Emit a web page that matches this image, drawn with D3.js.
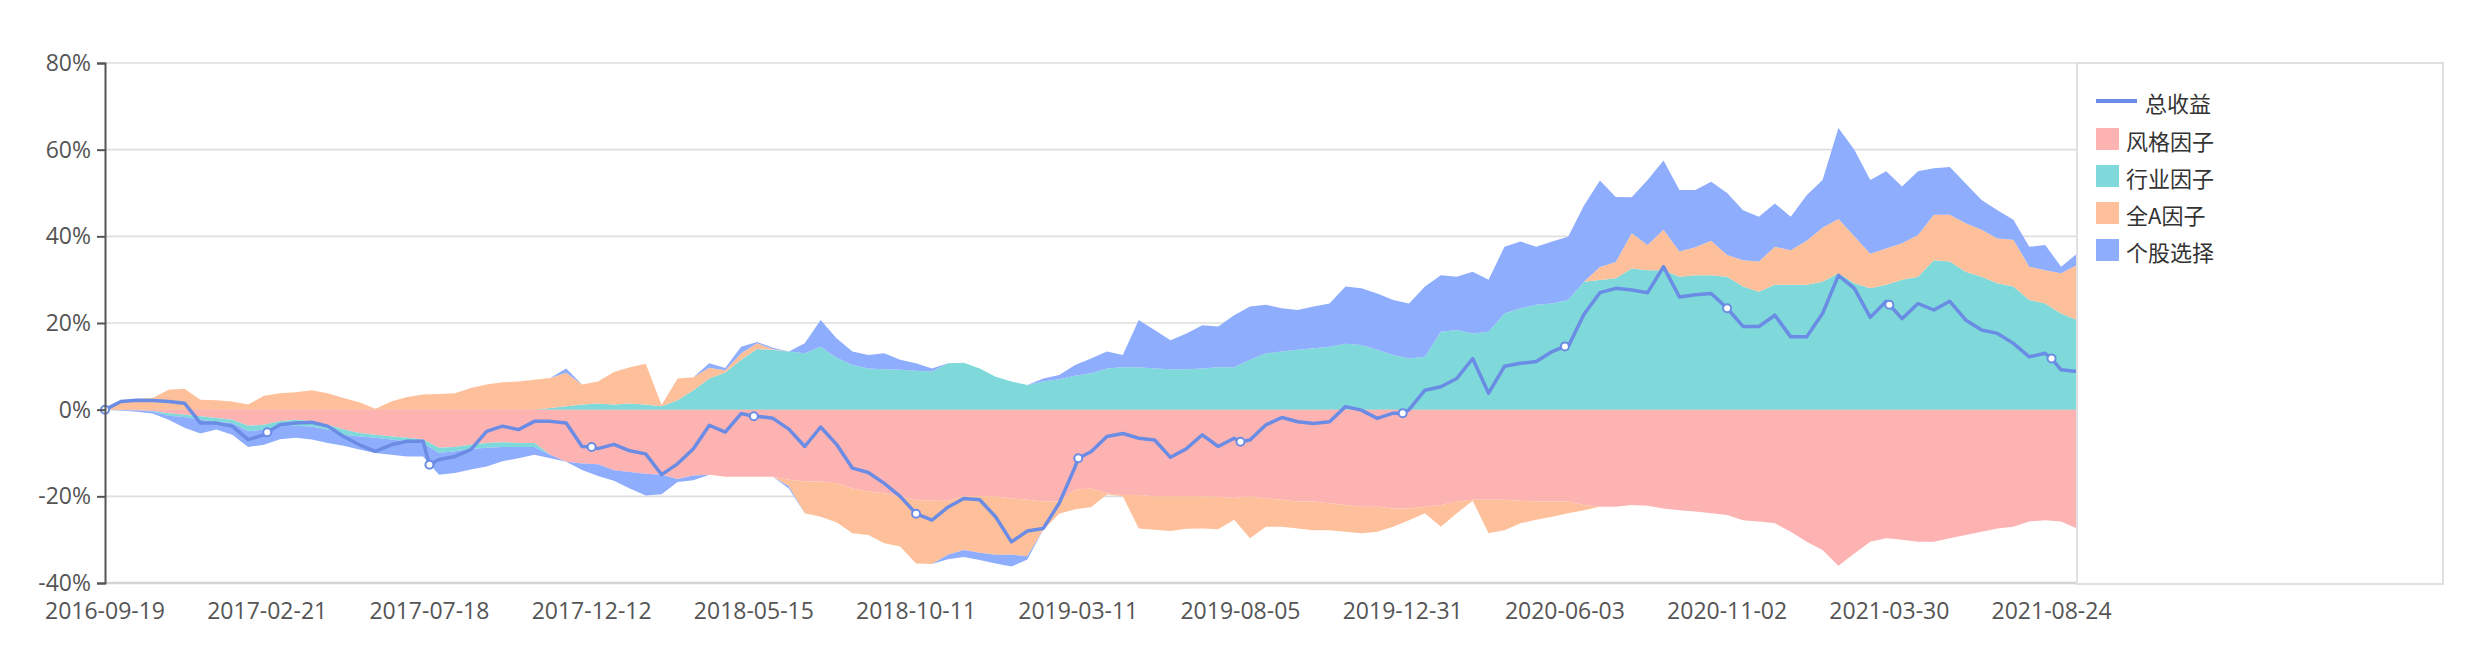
<!DOCTYPE html>
<html>
<head>
<meta charset="utf-8">
<script src="https://cdn.jsdelivr.net/npm/d3@7"></script>
<style>
  body { margin: 0; background: #fff; }
  text { font-family: "Microsoft YaHei", "Noto Sans CJK SC", "Noto Sans", sans-serif; }
  .axis-label { font-family: "Open Sans", "Noto Sans", sans-serif; font-size: 23px; }
</style>
</head>
<body>
<script>
// x categories: trading-day index, tick labels every 102 days
const tickDates = ["2016-09-19","2017-02-21","2017-07-18","2017-12-12","2018-05-15","2018-10-11",
  "2019-03-11","2019-08-05","2019-12-31","2020-06-03","2020-11-02","2021-03-30","2021-08-24"];
const tickDays = [0,102,204,306,408,510,612,714,816,918,1020,1122,1224];
const lastDay = 1240;
const sampleStep = 10;
const yTicks = [-40,-20,0,20,40,60,80];

// 总收益 (line), sampled every 10 trading days
const total = [
  0,1.9,2.2,2.1,1.9,1.5,-3.1,-3.1,-3.8,-6.9,
  -5.8,-3.5,-3.1,-2.9,-3.8,-6.2,-8.1,-9.6,-8.1,-7.3,
  -7.3,-11.5,-10.8,-9.2,-5.0,-3.8,-4.6,-2.7,-2.7,-3.1,
  -8.5,-9.0,-8.0,-9.5,-10.2,-15.0,-12.5,-9.0,-3.6,-5.2,
  -0.9,-1.5,-2.0,-4.5,-8.5,-4.0,-8.0,-13.5,-14.5,-17.0,
  -20.0,-24.3,-25.5,-22.5,-20.5,-20.8,-24.7,-30.5,-28.0,-27.4,
  -21.6,-13.2,-9.7,-6.2,-5.5,-6.6,-7.0,-11.0,-9.0,-5.8,
  -8.5,-6.6,-7.0,-3.5,-1.8,-2.8,-3.2,-2.8,0.7,-0.1,
  -2.0,-0.8,0.0,4.5,5.3,7.2,11.8,3.8,10.0,10.7,
  11.1,13.4,14.5,22.0,27.0,28.0,27.6,27.0,33.0,26.0,
  26.5,26.8,23.4,19.2,19.2,21.8,16.8,16.8,22.2,31.0,
  28.0,21.3,25.0,21.0,24.5,23.0,25.0,20.7,18.4,17.6,
  15.3,12.2,13.0,9.2,8.8
];
// 总收益 at the labelled days (drawn with symbols)
const totalAtTicks = [0,-5.2,-12.7,-8.6,-1.5,-24.0,-11.2,-7.4,-0.8,14.6,23.4,24.2,11.8];

// 风格因子
const style = [
  0,-0.1,-0.2,-0.3,-0.8,-1.2,-1.5,-1.9,-2.3,-3.7,
  -3.5,-2.7,-2.3,-2.7,-3.5,-4.6,-5.4,-5.8,-6.2,-6.5,
  -6.9,-8.8,-8.6,-8.1,-7.7,-7.5,-7.7,-7.7,-10.4,-12.0,
  -12.4,-12.6,-14.0,-14.4,-14.8,-15.0,-16.0,-15.2,-15.0,-15.5,
  -15.5,-15.5,-15.5,-16.2,-16.6,-16.6,-17.0,-18.2,-18.9,-19.3,
  -20.0,-20.8,-21.0,-21.0,-20.0,-20.0,-20.0,-20.5,-20.8,-21.2,
  -21.2,-18.5,-18.2,-19.3,-19.7,-19.7,-20.0,-20.0,-20.0,-20.0,
  -20.1,-20.4,-20.0,-20.5,-20.8,-21.2,-21.2,-21.6,-22.0,-22.4,
  -22.4,-22.8,-22.8,-22.4,-22.0,-21.2,-20.8,-20.8,-20.8,-21.0,
  -21.2,-21.2,-21.2,-22.0,-22.4,-22.4,-22.0,-22.2,-22.8,-23.2,
  -23.5,-23.9,-24.3,-25.5,-25.8,-26.2,-28.2,-30.5,-32.4,-36.0,
  -33.2,-30.5,-29.7,-30.0,-30.5,-30.5,-29.7,-28.9,-28.2,-27.4,
  -27.0,-25.8,-25.5,-25.8,-27.4
];
// 行业因子
const industry = [
  0,0,0,-0.1,-0.6,-0.5,-0.8,-1.0,-0.8,-1.3,
  -1.1,-1.1,-1.4,-1.2,-1.1,-1.2,-0.8,-0.7,-0.7,-0.8,
  -0.8,-1.2,-1.0,-1.0,-1.1,-1.1,-0.9,-0.9,0.4,0.8,
  1.2,1.4,1.2,1.4,1.2,0.8,2.2,4.5,7.2,8.6,
  11.5,14.0,13.8,13.4,13.0,14.5,12.0,10.3,9.5,9.3,
  9.2,9.0,8.8,10.7,10.8,9.5,7.6,6.5,5.7,6.5,
  7.0,7.8,8.4,9.5,9.8,9.8,9.5,9.3,9.3,9.5,
  9.8,9.8,11.5,13.0,13.4,13.8,14.2,14.5,15.2,14.9,
  13.8,12.6,11.8,12.2,18.0,18.4,17.6,18.0,22.2,23.4,
  24.2,24.5,25.3,29.5,29.9,30.3,32.6,32.2,32.2,30.7,
  31.0,31.0,30.7,28.4,27.2,28.8,28.8,28.8,29.5,31.5,
  29.2,28.0,28.8,30.0,30.7,34.5,34.2,31.8,30.7,29.2,
  28.4,25.3,24.5,22.2,20.7
];
// 全A因子
const market = [
  0,2.0,2.5,2.7,4.6,4.8,2.3,2.2,1.9,1.2,
  3.2,3.8,4.0,4.5,3.8,2.7,1.7,0.2,1.9,2.9,
  3.5,3.6,3.8,5.0,5.8,6.3,6.5,6.9,6.9,7.7,
  4.6,5.1,7.5,8.4,9.4,0.3,5.0,3.0,2.5,0.5,
  1.5,1.3,0.2,-1.5,-7.3,-8.1,-9.0,-10.3,-10.0,-11.5,
  -11.6,-14.7,-14.6,-12.5,-12.4,-13.0,-13.5,-13.0,-13.0,-6.5,
  -2.8,-4.5,-4.3,-0.3,-0.3,-7.7,-7.7,-8.0,-7.5,-7.4,
  -7.5,-5.0,-9.7,-6.5,-6.2,-6.2,-6.6,-6.2,-6.2,-6.1,
  -5.8,-4.2,-2.7,-1.5,-5.0,-2.7,-0.2,-7.7,-7.0,-5.2,
  -4.2,-3.5,-2.7,-1.2,3.0,3.8,8.1,5.8,9.3,5.8,
  6.5,8.0,5.0,6.1,7.0,8.8,8.0,10.2,12.5,12.5,
  10.8,8.0,8.4,8.4,9.6,10.5,10.8,11.2,10.8,10.3,
  10.8,7.7,7.7,9.3,12.7
];
// 个股选择
const stock = [
  0,-0.1,-0.3,-0.5,-0.9,-2.5,-3.2,-1.7,-2.7,-3.6,
  -3.5,-3.0,-2.8,-3.0,-3.1,-2.5,-3.0,-3.5,-3.5,-3.5,
  -3.1,-5.0,-5.0,-4.7,-4.3,-3.3,-2.6,-1.8,-0.8,1.0,
  -1.5,-2.7,-2.4,-3.8,-5.0,-4.5,-0.7,-1.1,1.0,0.5,
  1.5,0.3,0.3,-0.5,2.3,6.2,4.5,3.1,3.1,3.7,
  2.3,1.7,0.7,-1.0,-1.6,-1.7,-2.0,-2.7,-0.8,0.7,
  1.0,2.5,3.4,3.9,2.8,10.9,8.9,6.7,8.3,10.0,
  9.4,12.0,12.3,11.2,10.0,9.2,9.6,10.0,13.2,13.1,
  13.0,12.7,12.7,16.2,13.0,12.3,14.2,12.0,15.4,15.4,
  13.4,14.3,14.6,17.6,20.0,15.0,8.3,15.0,16.0,14.2,
  13.2,13.6,14.3,11.5,10.3,10.0,7.7,10.5,11.0,21.0,
  20.0,17.0,17.8,13.1,14.7,10.7,11.0,9.2,6.9,6.5,
  4.6,4.6,5.8,1.5,2.6
];

const seriesNames = ["风格因子","行业因子","全A因子","个股选择"];
const seriesColors = ["#feb3b3","#7fd8da","#fec09b","#8eadfd"];
const lineName = "总收益";
const lineColor = "#6a8ce4";

const width = 2467, height = 663;
const plot = {left: 105, right: 2077, top: 63, bottom: 583};

const svg = d3.select("body").append("svg")
  .attr("width", width)
  .attr("height", height);

const x = d3.scaleLinear().domain([0, lastDay]).range([plot.left, plot.right]);
const y = d3.scaleLinear().domain([-40, 80]).range([plot.bottom, plot.top]);

const rows = total.map((t, i) => ({
  day: i * sampleStep,
  "风格因子": style[i],
  "行业因子": industry[i],
  "全A因子": market[i],
  "个股选择": stock[i]
}));

// grid lines
svg.append("g")
  .selectAll("line")
  .data(yTicks)
  .join("line")
    .attr("x1", plot.left).attr("x2", plot.right)
    .attr("y1", d => y(d)).attr("y2", d => y(d))
    .attr("stroke", d => d === -40 ? "#d4d4d4" : "#dedede")
    .attr("stroke-width", d => d === -40 ? 2.5 : 1.6);

// positive parts stack upward, negative parts stack downward
const posStack = d3.stack().keys(seriesNames).value((d, k) => Math.max(0, d[k]))(rows);
const negStack = d3.stack().keys(seriesNames).value((d, k) => Math.min(0, d[k]))(rows);

const area = d3.area()
  .x(d => x(d.data.day))
  .y0(d => y(d[0]))
  .y1(d => y(d[1]));

const areas = svg.append("g");
[posStack, negStack].forEach(st => {
  areas.append("g")
    .selectAll("path")
    .data(st)
    .join("path")
      .attr("d", area)
      .attr("fill", (d, i) => seriesColors[i]);
});

// total return line, including the labelled points
const linePts = rows.map((r, i) => ({day: r.day, v: total[i]}))
  .filter(p => !tickDays.includes(p.day))
  .concat(tickDays.map((d, i) => ({day: d, v: totalAtTicks[i]})))
  .sort((a, b) => a.day - b.day);

const line = d3.line()
  .x(d => x(d.day))
  .y(d => y(d.v));

svg.append("path")
  .datum(linePts)
  .attr("d", line)
  .attr("fill", "none")
  .attr("stroke", lineColor)
  .attr("stroke-width", 3.5)
  .attr("stroke-linejoin", "round");

svg.append("g")
  .selectAll("circle")
  .data(tickDays)
  .join("circle")
    .attr("cx", d => x(d))
    .attr("cy", (d, i) => y(totalAtTicks[i]))
    .attr("r", 4)
    .attr("fill", "#fff")
    .attr("stroke", lineColor)
    .attr("stroke-width", 2);

// y axis
const yAxis = svg.append("g")
  .attr("transform", `translate(${plot.left},0)`)
  .call(d3.axisLeft(y).tickValues(yTicks).tickFormat(d => d + "%").tickSize(8).tickPadding(6));
yAxis.select(".domain").attr("stroke", "#555").attr("stroke-width", 2);
yAxis.selectAll(".tick line").attr("stroke", "#555").attr("stroke-width", 2);
yAxis.selectAll(".tick text")
  .attr("class", "axis-label")
  .attr("fill", "#555")
  .attr("font-size", null)
  .attr("font-family", null);

// x labels
svg.append("g")
  .selectAll("text")
  .data(tickDays)
  .join("text")
    .attr("class", "axis-label")
    .attr("x", d => x(d))
    .attr("y", 610)
    .attr("text-anchor", "middle")
    .attr("dominant-baseline", "central")
    .attr("fill", "#555")
    .text((d, i) => tickDates[i]);

// legend
svg.append("rect")
  .attr("x", plot.right).attr("y", plot.top)
  .attr("width", 366).attr("height", plot.bottom - plot.top + 1)
  .attr("fill", "none")
  .attr("stroke", "#e0e0e0")
  .attr("stroke-width", 2);

const legend = svg.append("g").attr("transform", `translate(${plot.right + 19},0)`);
legend.append("line")
  .attr("x1", 0).attr("x2", 41)
  .attr("y1", 101).attr("y2", 101)
  .attr("stroke", lineColor)
  .attr("stroke-width", 4);
legend.append("text")
  .attr("x", 49).attr("y", 102)
  .attr("dominant-baseline", "central")
  .attr("fill", "#333")
  .style("font-size", "22px")
  .text(lineName);

const items = legend.selectAll("g.item")
  .data(seriesNames)
  .join("g")
    .attr("class", "item")
    .attr("transform", (d, i) => `translate(0,${139 + i * 37})`);
items.append("rect")
  .attr("x", 0).attr("y", -11)
  .attr("width", 23).attr("height", 22)
  .attr("fill", (d, i) => seriesColors[i]);
items.append("text")
  .attr("x", 30).attr("y", 1)
  .attr("dominant-baseline", "central")
  .attr("fill", "#333")
  .style("font-size", "22px")
  .text(d => d);
</script>
</body>
</html>
